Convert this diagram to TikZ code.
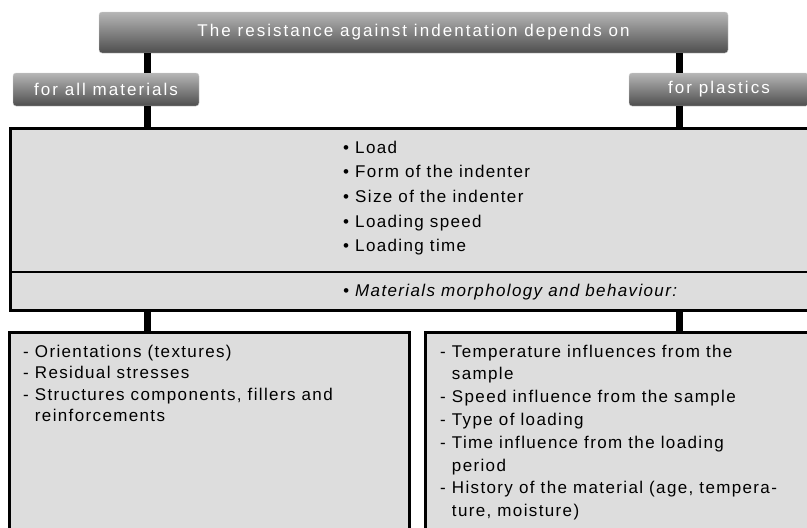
\documentclass[tikz,border=0pt]{standalone}
\usepackage{fontspec}
\setmainfont{Liberation Sans}
\newfontfamily\tagfont[LetterSpace=12]{Liberation Sans}
\newfontfamily\listfont[LetterSpace=8]{Liberation Sans}
\usepackage{xcolor}
\usepackage{tikz}
\definecolor{panelgray}{RGB}{221,221,221}
\definecolor{taglight}{RGB}{182,182,182}
\definecolor{tagdark}{RGB}{78,78,78}

\begin{document}
\begin{tikzpicture}[x=1pt,y=-1pt,
  tag/.style={rounded corners=3pt,draw=black!20,top color=taglight,bottom color=tagdark,
    text=white,inner sep=0pt,font=\tagfont\fontsize{17}{20}\selectfont},
  panel/.style={draw=black,line width=3pt,fill=panelgray,inner sep=0pt,outer sep=0pt,anchor=north west},
  link/.style={line width=7pt},
  item/.style={anchor=base west,inner sep=0pt,font=\listfont\fontsize{17}{20}\selectfont}]
\useasboundingbox (0,0) rectangle (807,528);
\clip (0,0) rectangle (807,528);

% header and the two branches
\node[tag,minimum width=629pt,minimum height=41pt] (head) at (413.5,32.5) {The resistance against indentation depends on};
\node[tag,minimum width=186pt,minimum height=33pt] (allmat) at (106,89.5) {for all materials};
\node[tag,minimum width=180pt,minimum height=33pt] (plast) at (719,89.5) {for plastics};

% common factors
\node[panel,minimum width=830pt,minimum height=182pt] (props) at (10.5,128.5) {};
\coordinate (split) at (0,272);
\draw[line width=2pt] (props.west |- split) -- (props.east |- split);
\foreach \t [count=\i] in {Load,Form of the indenter,Size of the indenter,Loading speed,Loading time}
  \node[item] (load\i) at (343,{128.3+24.7*\i}) {\textbullet\ \t};
\node[item,font=\listfont\itshape\fontsize{17}{20}\selectfont] (morph) at (343,296) {\textbullet\ Materials morphology and behaviour:};

% the two lists
\node[panel,minimum width=400pt,minimum height=220pt] (solid) at (9,332.5) {};
\node[panel,minimum width=400pt,minimum height=220pt] (plastic) at (425.5,332.5) {};
\foreach \t [count=\i] in {- Orientations (textures),- Residual stresses,%
{- Structures components, fillers and},\phantom{- }reinforcements}
  \node[item] (sol\i) at (23,{335.4+21.6*\i}) {\t};
\foreach \t [count=\i] in {- Temperature influences from the,\phantom{- }sample,%
- Speed influence from the sample,- Type of loading,- Time influence from the loading,%
\phantom{- }period,{- History of the material (age, tempera-},{\phantom{- }ture, moisture)}}
  \node[item] (pla\i) at (440,{334.2+22.8*\i}) {\t};

% connectors
\coordinate (lj) at (147.5,0);
\coordinate (rj) at (679.5,0);
\draw[link] (lj |- head.south) -- (lj |- allmat.north);
\draw[link] (lj |- allmat.south) -- (lj |- props.north);
\draw[link] (rj |- head.south) -- (rj |- plast.north);
\draw[link] (rj |- plast.south) -- (rj |- props.north);
\draw[link] (lj |- props.south) -- (lj |- solid.north);
\draw[link] (rj |- props.south) -- (rj |- plastic.north);
\end{tikzpicture}
\end{document}
